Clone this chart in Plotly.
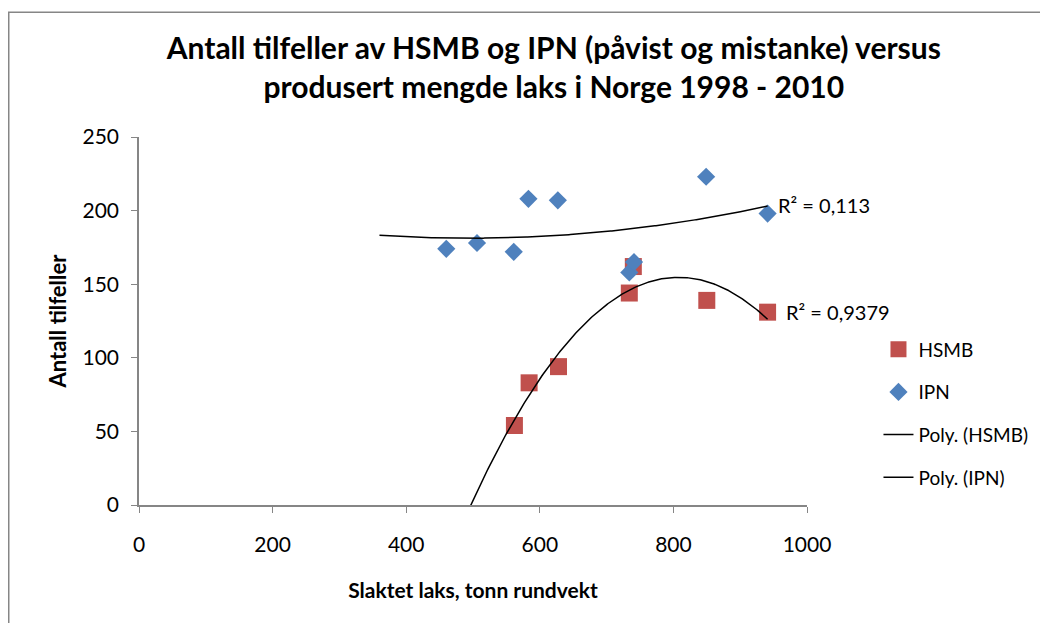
import numpy as np
import plotly.graph_objects as go

# Data
hsmb_x = [562, 584, 628, 734, 740, 850, 941]
hsmb_y = [54, 83, 94, 144, 162, 139, 131]
ipn_x = [460, 506, 561, 583, 627, 734, 741, 849, 941]
ipn_y = [174, 178, 172, 208, 207, 158, 165, 223, 198]

x_ticks = [0, 200, 400, 600, 800, 1000]
y_ticks = [0, 50, 100, 150, 200, 250]

backward_forecast = 100  # Excel trendline "forecast backward"

FONT = "Lato"
RED = "#C0504D"
BLUE = "#4F81BD"
AXIS = "#868686"


def poly_trend(xs, ys, order=2, back=0):
    c = np.polyfit(xs, ys, order)
    xx = np.linspace(min(xs) - back, max(xs), 300)
    yy = np.polyval(c, xx)
    return xx, yy


hx, hy = poly_trend(hsmb_x, hsmb_y, 2, backward_forecast)
ix, iy = poly_trend(ipn_x, ipn_y, 2, backward_forecast)

fig = go.Figure()
fig.add_trace(go.Scatter(x=hsmb_x, y=hsmb_y, mode="markers", name="HSMB",
                         marker=dict(symbol="square", size=17, color=RED,
                                     line=dict(width=0)),
                         legendgroup="a"))
fig.add_trace(go.Scatter(x=ipn_x, y=ipn_y, mode="markers", name="IPN",
                         marker=dict(symbol="diamond", size=14, color=BLUE,
                                     line=dict(width=0)),
                         legendgroup="b"))
fig.add_trace(go.Scatter(x=hx, y=hy, mode="lines", name="Poly. (HSMB)",
                         line=dict(color="black", width=1.5), legendgroup="c"))
fig.add_trace(go.Scatter(x=ix, y=iy, mode="lines", name="Poly. (IPN)",
                         line=dict(color="black", width=1.5), legendgroup="d"))

fig.add_annotation(x=ix[-1], y=iy[-1], text="R² = 0,113", showarrow=False,
                   xanchor="left", yanchor="middle", xshift=8, yshift=1,
                   font=dict(family=FONT, size=20, color="black"))
fig.add_annotation(x=hx[-1], y=hy[-1], text="R² = 0,9379", showarrow=False,
                   xanchor="left", yanchor="middle", xshift=16, yshift=7,
                   font=dict(family=FONT, size=20, color="black"))

# outer chart border
fig.add_shape(type="rect", xref="paper", yref="paper",
              x0=-0.195, x1=1.6, y0=-0.6, y1=1.339,
              line=dict(color=AXIS, width=1.5), fillcolor="rgba(0,0,0,0)",
              layer="below")

fig.update_layout(
    width=1048, height=623,
    margin=dict(l=131, r=249, t=129, b=126),
    paper_bgcolor="white", plot_bgcolor="white",
    font=dict(family=FONT, size=21, color="black"),
    title=dict(text="<b>Antall tilfeller av HSMB og IPN (påvist og mistanke) versus<br>produsert mengde laks i Norge 1998 - 2010</b>",
               x=0.621, xref="paper", xanchor="center",
               y=0.918, yref="container", yanchor="top",
               font=dict(family=FONT, size=30, color="black")),
    showlegend=True,
    legend=dict(x=1.107, xanchor="left", y=0.249, yanchor="middle",
                font=dict(family=FONT, size=19), tracegroupgap=15,
                bgcolor="rgba(0,0,0,0)"),
)
fig.update_xaxes(range=[0, 1000], tickvals=x_ticks, ticks="outside", ticklen=6,
                 tickcolor=AXIS, showline=True, linecolor=AXIS, linewidth=1.5,
                 showgrid=False, zeroline=False, ticklabelstandoff=14,
                 title=dict(text="<b>Slaktet laks, tonn rundvekt</b>",
                            font=dict(size=21), standoff=28))
fig.update_yaxes(range=[0, 250], tickvals=y_ticks, ticks="outside", ticklen=6,
                 tickcolor=AXIS, showline=True, linecolor=AXIS, linewidth=1.5,
                 showgrid=False, zeroline=False, ticklabelstandoff=8,
                 title=dict(text="<b>Antall tilfeller</b>", font=dict(size=22),
                            standoff=10))

fig.write_html("out.html")
